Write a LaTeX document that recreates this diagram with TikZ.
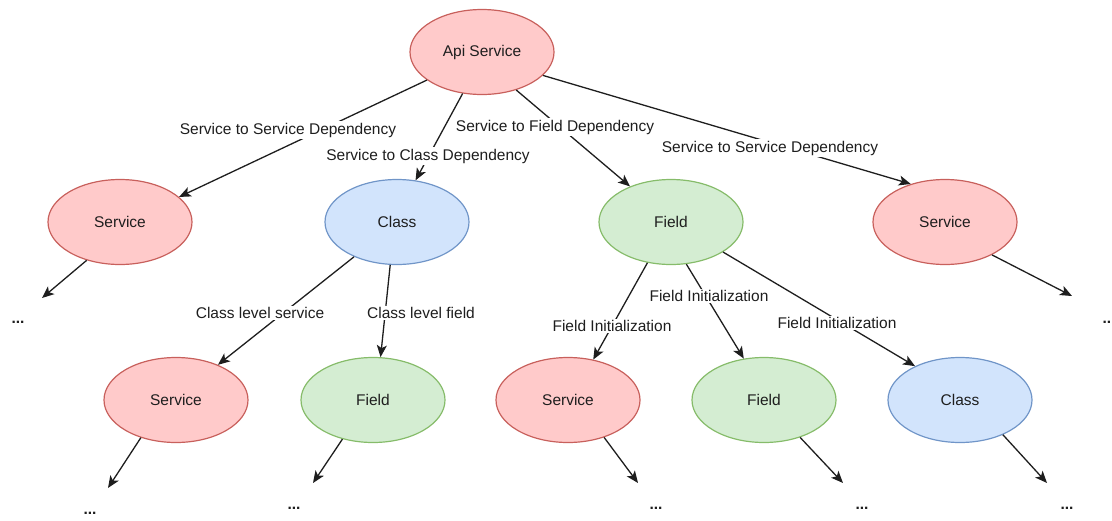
\documentclass[tikz,border=0pt]{standalone}
\usepackage{fontspec}
\setmainfont{Liberation Sans}
\usetikzlibrary{arrows.meta,shapes.geometric}
\definecolor{svcfill}{HTML}{FFCACA}
\definecolor{svcline}{HTML}{C8605C}
\definecolor{clsfill}{HTML}{D2E4FC}
\definecolor{clsline}{HTML}{7095C8}
\definecolor{fldfill}{HTML}{D4EDD2}
\definecolor{fldline}{HTML}{86BC6A}
\definecolor{ink}{HTML}{1E1E1E}
\tikzset{
  oval/.style={ellipse, minimum width=144pt, minimum height=85pt, inner sep=0pt, line width=1.2pt,
    text=ink, font=\fontsize{15.5}{18}\selectfont},
  svc/.style={oval, fill=svcfill, draw=svcline},
  cls/.style={oval, fill=clsfill, draw=clsline},
  fld/.style={oval, fill=fldfill, draw=fldline},
  link/.style={line width=1.3pt, draw=ink, -{Stealth[length=12pt,width=10pt,inset=3pt]}},
  lbl/.style={fill=white, inner sep=1.5pt, text=ink, font=\fontsize{15.5}{18}\selectfont},
  more/.style={font=\fontsize{15.5}{18}\selectfont\bfseries, text=ink, inner sep=0pt}
}
\begin{document}
\begin{tikzpicture}[x=1pt,y=-1pt]
\useasboundingbox (0,0) rectangle (1112,520);

% first level
\node[svc] (api) at (482,52) {Api Service};
\node[svc] (svcL) at (120,222) {Service};
\node[cls] (cls) at (397,222) {Class};
\node[fld] (fld) at (671,222) {Field};
\node[svc] (svcR) at (945,222) {Service};

% second level
\node[svc] (svcA) at (176,400) {Service};
\node[fld] (fldA) at (373,400) {Field};
\node[svc] (svcB) at (568,400) {Service};
\node[fld] (fldB) at (764,400) {Field};
\node[cls] (clsB) at (960,400) {Class};

% continuation marks
\node[more] (m1) at (18,322) {...};
\node[more] (m2) at (1109,322) {...};
\node[more] (m3) at (90,513) {...};
\node[more] (m4) at (294,508) {...};
\node[more] (m5) at (656,508) {...};
\node[more] (m6) at (862,508) {...};
\node[more] (m7) at (1067,508) {...};

\coordinate (t1) at (42,298);
\coordinate (t2) at (1072,296);
\coordinate (t3) at (108,488);
\coordinate (t4) at (313,483);
\coordinate (t5) at (638,483);
\coordinate (t6) at (843,483);
\coordinate (t7) at (1047,483);

% connectors
\draw[link] (api.207) -- (svcL.23);
\draw[link] (api.245) -- (cls.66);
\draw[link] (api.312) -- (fld.139);
\draw[link] (api.339) -- (svcR.132);
\draw[link] (svcL.229) -- (t1);
\draw[link] (svcR.325) -- (t2);
\draw[link] (cls.219) -- (svcA.40);
\draw[link] (cls.261) -- (fldA.80);
\draw[link] (fld.240) -- (svcB.58);
\draw[link] (fld.290) -- (fldB.116);
\draw[link] (fld.330) -- (clsB.143);
\draw[link] (svcA.227) -- (t3);
\draw[link] (fldA.232) -- (t4);
\draw[link] (svcB.314) -- (t5);
\draw[link] (fldB.314) -- (t6);
\draw[link] (clsB.321) -- (t7);

% connector labels
\node[lbl] (l1) at (288,130) {Service to Service Dependency};
\node[lbl] (l2) at (428,156) {Service to Class Dependency};
\node[lbl] (l3) at (555,127) {Service to Field Dependency};
\node[lbl] (l4) at (770,148) {Service to Service Dependency};
\node[lbl] (l5) at (260,313) {Class level service};
\node[lbl] (l6) at (421,313) {Class level field};
\node[lbl] (l7) at (612,326) {Field Initialization};
\node[lbl] (l8) at (709,296) {Field Initialization};
\node[lbl] (l9) at (837,323) {Field Initialization};
\end{tikzpicture}
\end{document}
